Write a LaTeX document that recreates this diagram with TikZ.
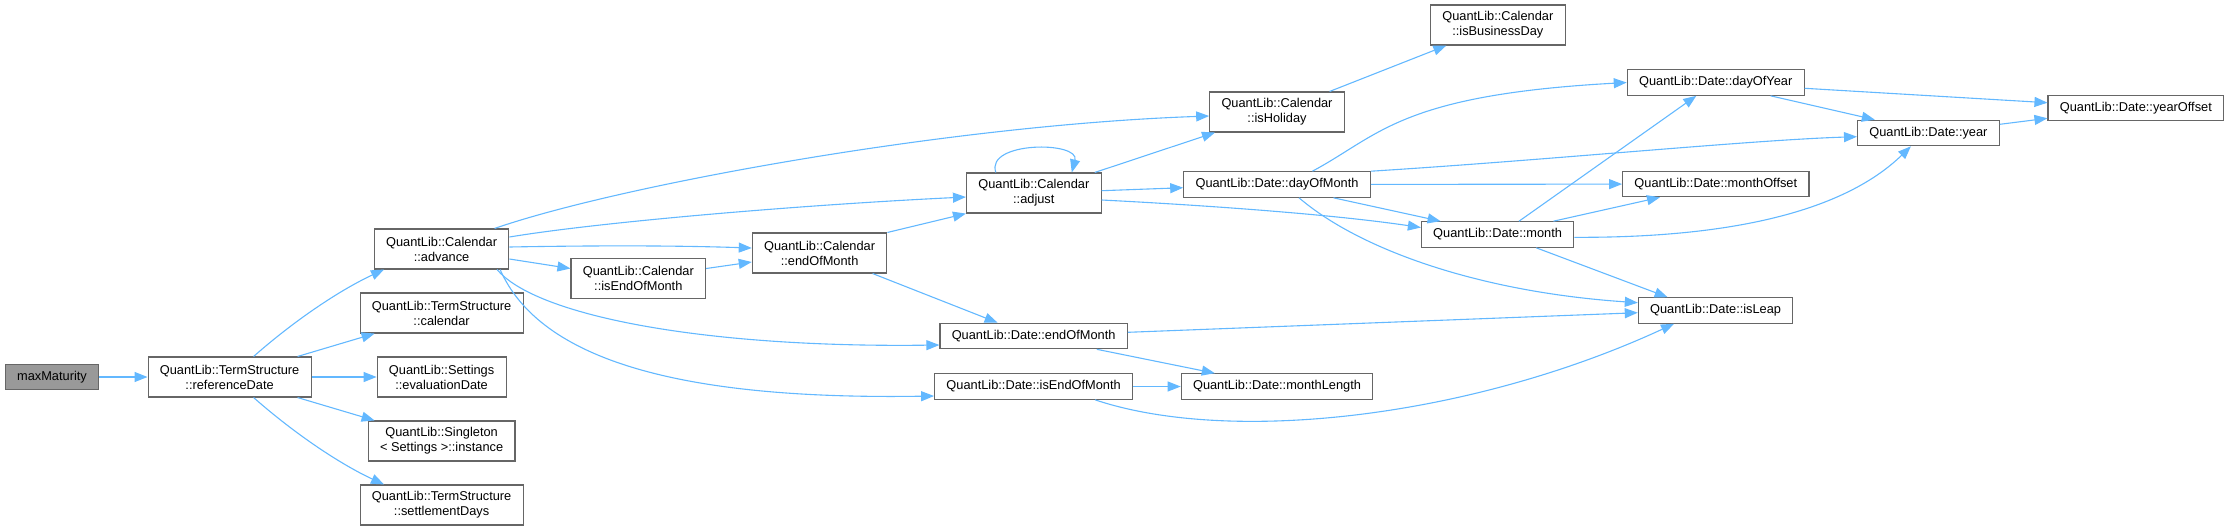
\documentclass[tikz,border=0pt]{standalone}
\usepackage{fontspec}
\setmainfont{Liberation Sans}
\usetikzlibrary{positioning, arrows.meta}
\definecolor{cEdge}{HTML}{63B8FF}
\definecolor{cLine}{HTML}{666666}
\definecolor{cRoot}{HTML}{999999}

\begin{document}
\begin{tikzpicture}[x=1pt, y=-1pt, node distance=64pt, on grid,
    fn/.style={draw=cLine, fill=white, line width=1.1pt, inner xsep=11.8pt, inner ysep=0pt,
               minimum height=25.5pt, align=center, font=\fontsize{12.8}{15}\selectfont},
    fn2/.style={fn, minimum height=40pt},
    root/.style={fn, fill=cRoot},
    call/.style={draw=cEdge, line width=1.1pt, -{Triangle[length=13pt, width=10pt]}}]
    \useasboundingbox (0,0) rectangle (2229,531);

    % Nodes
    \node[root] (maxm) at (52,377) {maxMaturity};
    \node[fn2] (ref) at (229.6,377) {QuantLib::TermStructure\\::referenceDate};
    \node[fn2] (adv) at (441.6,249) {QuantLib::Calendar\\::advance};
    \node[fn2] (cal) [below=of adv] {QuantLib::TermStructure\\::calendar};
    \node[fn2] (evd) [below=of cal] {QuantLib::Settings\\::evaluationDate};
    \node[fn2] (inst) [below=of evd] {QuantLib::Singleton\\< Settings >::instance};
    \node[fn2] (sdays) [below=of inst] {QuantLib::TermStructure\\::settlementDays};
    \node[fn2] (cieom) at (638.3,278.5) {QuantLib::Calendar\\::isEndOfMonth};
    \node[fn2] (ceom) at (819.6,253) {QuantLib::Calendar\\::endOfMonth};
    \node[fn2] (adj) at (1033.8,193) {QuantLib::Calendar\\::adjust};
    \node[fn] (deom) at (1033.6,336) {QuantLib::Date::endOfMonth};
    \node[fn] (dieom) at (1033.6,386.5) {QuantLib::Date::isEndOfMonth};
    \node[fn2] (hol) at (1277,112) {QuantLib::Calendar\\::isHoliday};
    \node[fn] (dom) at (1277,184.5) {QuantLib::Date::dayOfMonth};
    \node[fn] (mlen) at (1277,386.5) {QuantLib::Date::monthLength};
    \node[fn2] (busday) at (1497.8,25) {QuantLib::Calendar\\::isBusinessDay};
    \node[fn] (month) at (1497.6,234.5) {QuantLib::Date::month};
    \node[fn] (doy) at (1715.7,82.5) {QuantLib::Date::dayOfYear};
    \node[fn] (moff) at (1715.8,184) {QuantLib::Date::monthOffset};
    \node[fn] (leap) at (1715.6,310.5) {QuantLib::Date::isLeap};
    \node[fn] (year) at (1928.4,133) {QuantLib::Date::year};
    \node[fn] (yoff) at (2135.8,108) {QuantLib::Date::yearOffset};

    % Calls from the left part
    \draw[call] (maxm) -- (ref);
    \draw[call] ([xshift=24]ref.north) .. controls (295,320) and (340,290) .. ([xshift=-57.6]adv.south);
    \draw[call] ([xshift=68]ref.north) -- ([xshift=-67]cal.south);
    \draw[call] (ref) -- (evd);
    \draw[call] ([xshift=68]ref.south) -- ([xshift=-67]inst.north);
    \draw[call] ([xshift=24]ref.south) .. controls (295,434) and (340,464) .. ([xshift=-57.6]sdays.north);

    % Calendar::advance
    \draw[call] ([xshift=53]adv.north) .. controls (620,185) and (950,125) .. ([yshift=-4]hol.west);
    \draw[call] ([yshift=12]adv.east) .. controls (600,222) and (800,205) .. ([yshift=-4]adj.west);
    \draw[call] ([yshift=2]adv.east) .. controls (620,245) and (690,246) .. ([yshift=5]ceom.west);
    \draw[call] ([yshift=-10]adv.east) -- ([yshift=10]cieom.west);
    \draw[call] ([xshift=55.5]adv.south) .. controls (535,315) and (700,348) .. ([yshift=-9]deom.west);
    \draw[call] ([xshift=58.5]adv.south) .. controls (540,360) and (680,400) .. ([yshift=-9.5]dieom.west);
    \draw[call] ([yshift=10]cieom.east) -- ([yshift=-9]ceom.west);
    \draw[call] (ceom.north east) -- (adj.south west);
    \draw[call] ([xshift=53]ceom.south) -- ([xshift=-36]deom.north);

    % Calendar::adjust
    \draw[call] ([xshift=-38]adj.north) .. controls (985,141) and (1080,141) .. ([xshift=38]adj.north);
    \draw[call] ([xshift=61]adj.north) -- ([xshift=-62]hol.south);
    \draw[call] ([yshift=2.3]adj.east) -- ([yshift=-3.2]dom.west);
    \draw[call] ([yshift=-7]adj.east) .. controls (1200,205) and (1330,214) .. ([yshift=7]month.west);
    \draw[call] ([xshift=52.6]hol.north) -- ([xshift=-51.5]busday.south);

    % Date::dayOfMonth and Date::month
    \draw[call] ([xshift=35.4]dom.north) .. controls (1380,135) and (1400,95) .. (doy.west);
    \draw[call] (dom.north east) .. controls (1550,160) and (1750,140) .. ([yshift=-3.7]year.west);
    \draw[call] (dom) -- (moff);
    \draw[call] ([xshift=56.4]dom.south) -- ([xshift=-57]month.north);
    \draw[call] ([xshift=22]dom.south) .. controls (1360,250) and (1480,292) .. ([yshift=7.8]leap.west);
    \draw[call] ([xshift=21.4]month.north) -- ([xshift=-19.4]doy.south);
    \draw[call] ([xshift=55.8]month.north) -- ([xshift=-55.8]moff.south);
    \draw[call] ([yshift=-2.8]month.east) .. controls (1720,238) and (1840,215) .. ([xshift=-17.5]year.south);
    \draw[call] ([xshift=38.6]month.south) -- ([xshift=-48]leap.north);

    % Date::dayOfYear and Date::year
    \draw[call] ([xshift=54.8]doy.south) -- ([xshift=-53.6]year.north);
    \draw[call] ([yshift=-5.8]doy.east) -- ([yshift=5.3]yoff.west);
    \draw[call] ([yshift=8.7]year.east) -- ([yshift=-10.3]yoff.west);

    % Date::endOfMonth and Date::isEndOfMonth
    \draw[call] ([yshift=3.7]deom.east) -- ([yshift=-2.2]leap.west);
    \draw[call] ([xshift=63.2]deom.south) -- ([xshift=-62.2]mlen.north);
    \draw[call] (dieom) -- (mlen);
    \draw[call] ([xshift=61.4]dieom.south) .. controls (1230,445) and (1470,418) .. ([xshift=-41.6]leap.south);
\end{tikzpicture}
\end{document}
